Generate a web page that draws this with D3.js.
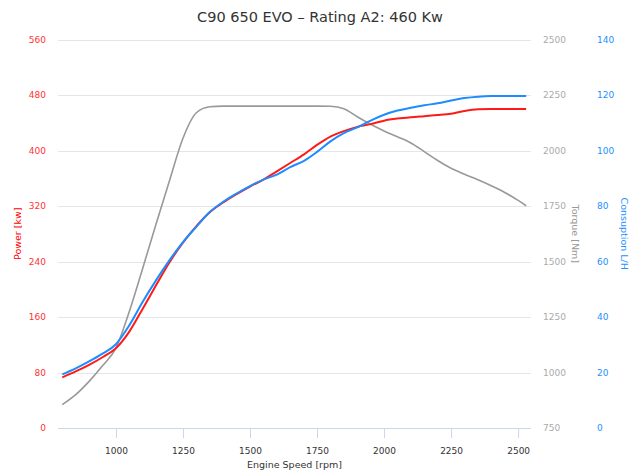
<!DOCTYPE html>
<html><head><meta charset="utf-8">
<script src="https://cdn.jsdelivr.net/npm/d3@7"></script>
<style>html,body{margin:0;padding:0;background:#fff;}</style>
</head><body>
<svg id="c" width="639" height="475"></svg>
<script>
const title = "C90 650 EVO – Rating A2: 460 Kw";
const rpm = [800,850,900,950,1000,1050,1100,1150,1200,1250,1300,1350,1400,1450,1500,1550,1600,1650,1700,1750,1800,1850,1900,1950,2000,2050,2100,2150,2200,2250,2300,2350,2400,2450,2500,2530];
const power = [73,81.5,91,102,115,139,172,206,239,267,291,311,325,337,348,358,370,382,394,408,420,428,434,438,443,446,448,449.5,451,453,457,459.5,460,460,460,460];
const torque = [855,900,960,1030,1110,1275,1470,1670,1865,2055,2170,2197,2200,2200,2200,2200,2200,2200,2200,2200,2199,2188,2152,2118,2088,2062,2034,1995,1955,1920,1893,1868,1841,1811,1775,1751];
const consumption = [19.3,21.5,24,26.8,30.2,37,45.5,53.3,60.5,67,72.5,77.8,81.5,84.5,87.2,89.5,91.3,94,96.2,99.5,103.3,106.3,108.3,110.8,112.9,114.4,115.4,116.3,117,118,118.9,119.4,119.6,119.6,119.6,119.6];
const xTicks = [1000,1250,1500,1750,2000,2250,2500];
const powerTicks = [0,80,160,240,320,400,480,560];
const torqueTicks = [750,1000,1250,1500,1750,2000,2250,2500];
const consTicks = [0,20,40,60,80,100,120,140];

const svg = d3.select("#c");
const L = 58, R = 531, T = 39.5, B = 428;
const font = "DejaVu Sans, sans-serif";
const x = d3.scaleLinear().domain([784, 2548]).range([L, R]);
const yP = d3.scaleLinear().domain([0, 560]).range([B, T]);
const yT = d3.scaleLinear().domain([750, 2500]).range([B, T]);
const yC = d3.scaleLinear().domain([0, 140]).range([B, T]);

// title
svg.append("text").attr("x", 320).attr("y", 22).attr("text-anchor", "middle")
  .attr("font-family", font).attr("font-size", 14.5).attr("fill", "#333").text(title);

// gridlines
svg.append("g").selectAll("line").data(powerTicks.slice(1)).join("line")
  .attr("x1", L).attr("x2", R).attr("y1", d => Math.round(yP(d)) + 0.5).attr("y2", d => Math.round(yP(d)) + 0.5)
  .attr("stroke", "#e6e6e6").attr("stroke-width", 1);

// x axis
const xg = svg.append("g").attr("transform", `translate(0,${B})`)
  .call(d3.axisBottom(x).tickValues(xTicks).tickSize(10).tickPadding(10).tickFormat(d3.format("d")));
xg.select(".domain").attr("stroke", "#ccd6eb").attr("d", `M${L},0.5H${R}`);
xg.selectAll(".tick line").attr("stroke", "#ccd6eb");
xg.selectAll("text").attr("font-family", font).attr("font-size", 9).attr("fill", "#333");
svg.append("text").attr("x", (L + R) / 2).attr("y", 468).attr("text-anchor", "middle")
  .attr("font-family", font).attr("font-size", 9.5).attr("fill", "#333").text("Engine Speed [rpm]");

// left axis
const lg = svg.append("g").attr("transform", `translate(46,0)`)
  .call(d3.axisLeft(yP).tickValues(powerTicks).tickSize(0).tickPadding(0).tickFormat(d3.format("d")));
lg.select(".domain").remove();
lg.selectAll("text").attr("font-family", font).attr("font-size", 9).attr("fill", "#ff3333");
svg.append("text").attr("transform", `translate(21,${(T + B) / 2}) rotate(-90)`).attr("text-anchor", "middle")
  .attr("font-family", font).attr("font-size", 9.5).attr("fill", "#ff0000").text("Power [kw]");

// torque axis
const tg = svg.append("g").attr("transform", `translate(543,0)`)
  .call(d3.axisRight(yT).tickValues(torqueTicks).tickSize(0).tickPadding(0).tickFormat(d3.format("d")));
tg.select(".domain").remove();
tg.selectAll("text").attr("font-family", font).attr("font-size", 9).attr("fill", "#aaa");
svg.append("text").attr("transform", `translate(572,${(T + B) / 2}) rotate(90)`).attr("text-anchor", "middle")
  .attr("font-family", font).attr("font-size", 9.5).attr("fill", "#999").text("Torque [Nm]");

// consumption axis
const cg = svg.append("g").attr("transform", `translate(597,0)`)
  .call(d3.axisRight(yC).tickValues(consTicks).tickSize(0).tickPadding(0).tickFormat(d3.format("d")));
cg.select(".domain").remove();
cg.selectAll("text").attr("font-family", font).attr("font-size", 9).attr("fill", "#1e90ff");
svg.append("text").attr("transform", `translate(621,${(T + B) / 2}) rotate(90)`).attr("text-anchor", "middle")
  .attr("font-family", font).attr("font-size", 9.5).attr("fill", "#1e90ff").text("Consuption L/H");

// lines
const mk = (ys, arr) => d3.line().x((d, i) => x(rpm[i])).y((d, i) => ys(arr[i])).curve(d3.curveMonotoneX)(arr);
svg.append("path").attr("d", mk(yT, torque)).attr("fill", "none").attr("stroke", "#999").attr("stroke-width", 1.6);
svg.append("path").attr("d", mk(yP, power)).attr("fill", "none").attr("stroke", "#ff1a1a").attr("stroke-width", 2);
svg.append("path").attr("d", mk(yC, consumption)).attr("fill", "none").attr("stroke", "#1e8cff").attr("stroke-width", 2);
</script>
</body></html>
